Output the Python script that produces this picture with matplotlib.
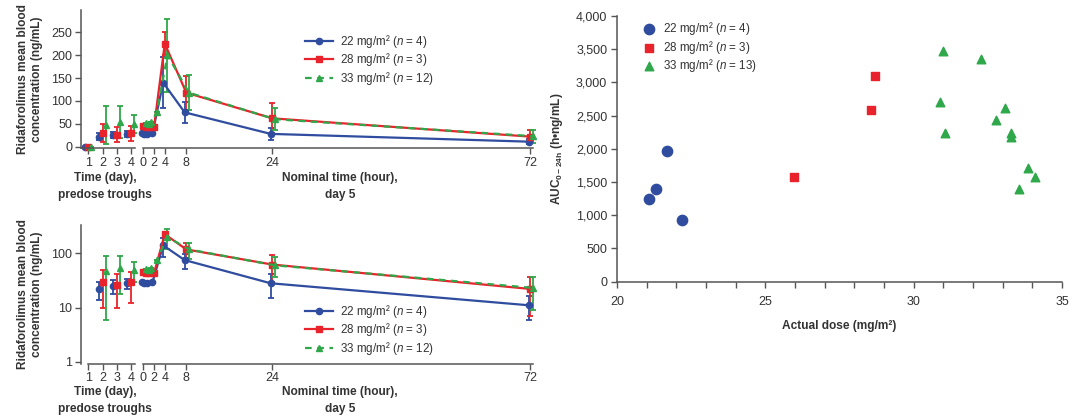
import numpy as np
import matplotlib
matplotlib.use('Agg')
import matplotlib.pyplot as plt
from matplotlib.lines import Line2D
from matplotlib.ticker import FuncFormatter, MultipleLocator, NullLocator

plt.rcParams['font.family'] = ['Liberation Sans', 'DejaVu Sans']
plt.rcParams['mathtext.fontset'] = 'custom'
plt.rcParams['mathtext.rm'] = 'Liberation Sans'
plt.rcParams['mathtext.it'] = 'Liberation Sans:italic'
plt.rcParams['mathtext.bf'] = 'Liberation Sans:bold'

W, H = 1073, 420
blue = '#2f4c9f'
red = '#e8232b'
green = '#2ea84a'
gris = '#555555'
txt = '#333333'

# predose troughs (days 1-4)
dias = [1, 2, 3, 4]
dia_azul = [0, 22, 25, 28]
dia_azul_sd = [0, 8, 7, 6]
dia_verm = [0, 30, 26, 29]
dia_verm_sd = [0, 20, 16, 17]
dia_verde = [0, 47, 53, 49]
dia_verde_sd = [0, 41, 35, 20]

# day 5 profile (hours)
horas = [0, 0.5, 1, 2, 4, 8, 24, 72]
h_azul = [30, 28, 28, 29, 140, 75, 28, 11]
h_azul_sd = [0, 0, 0, 0, 55, 23, 13, 5]
h_verm = [46, 43, 43, 43, 225, 118, 62, 22]
h_verm_sd = [0, 0, 0, 0, 25, 37, 33, 15]
h_verde = [52, 50, 53, 75, 200, 118, 60, 23]
h_verde_sd = [0, 0, 0, 0, 80, 38, 24, 14]

# AUC vs actual dose
dose_azul = [21.08, 21.3, 21.69, 22.2]
auc_azul = [1245, 1395, 1972, 929]
dose_verm = [25.98, 28.68, 28.57]
auc_verm = [1580, 3096, 2589]
dose_verde = [30.98, 32.28, 30.88, 33.09, 32.78, 31.07, 33.27, 33.27, 33.87, 34.09, 33.56]
auc_verde = [3477, 3347, 2705, 2619, 2434, 2238, 2243, 2173, 1706, 1571, 1390]

rotulos = ['22 mg/m² ($\\mathit{n}$ = 4)', '28 mg/m² ($\\mathit{n}$ = 3)']
rotulos_pk = rotulos + ['33 mg/m² ($\\mathit{n}$ = 12)']
rotulos_auc = rotulos + ['33 mg/m² ($\\mathit{n}$ = 13)']

fs_tick = 9
fs_lab = 8.6
fs_leg = 8.4


def caixa(x0, y0, x1, y1):
    return [x0 / W, 1 - y1 / H, (x1 - x0) / W, (y1 - y0) / H]


fig = plt.figure(figsize=(W / 100, H / 100), dpi=100)

series = [
    (dia_azul, dia_azul_sd, h_azul, h_azul_sd, blue, 'o', '-', -0.25, -0.3),
    (dia_verm, dia_verm_sd, h_verm, h_verm_sd, red, 's', '-', 0.0, 0.0),
    (dia_verde, dia_verde_sd, h_verde, h_verde_sd, green, '^', (0, (3, 2.5)), 0.22, 0.5),
]


def painel(top, bottom, log):
    axd = fig.add_axes(caixa(80.5, top, 135.3, bottom))
    axh = fig.add_axes(caixa(140.6, top, 535.7, bottom), sharey=axd)
    for (dv, dsd, hv, hsd, cor, mk, ls, offd, offh) in series:
        dx = np.array(dias) + offd
        dv = np.array(dv, float)
        dsd = np.array(dsd, float)
        if log:
            ok = dv > 0
        else:
            ok = np.ones(len(dv), bool)
        axd.errorbar(dx[ok], dv[ok], yerr=dsd[ok], fmt=mk, color=cor, ms=4.5,
                     elinewidth=1.3, capsize=2.5, capthick=1.3, clip_on=False)
        hx = np.array(horas) + offh
        axh.errorbar(hx, hv, yerr=hsd, color=cor, marker=mk, ms=4.5, ls=ls, lw=1.6,
                     elinewidth=1.3, capsize=2.5, capthick=1.3, clip_on=False)
    if log:
        axd.set_yscale('log')
        axd.set_ylim(0.907, 333)
        axd.set_yticks([1, 10, 100])
        axd.set_yticklabels(['1', '10', '100'])
        axd.yaxis.set_minor_locator(NullLocator())
        axd.spines['bottom'].set_bounds(0.95, 4.3)
    else:
        axd.set_ylim(-3.5, 298.7)
        axd.set_yticks([0, 50, 100, 150, 200, 250])
    axd.set_xlim(0.45, 4.3)
    axd.set_xticks(dias)
    axh.set_xlim(-0.5, 73)
    axh.set_xticks([0, 2, 4, 8, 24, 72])
    axh.spines['bottom'].set_bounds(0, 72.5)
    for a in (axd, axh):
        a.spines['top'].set_visible(False)
        a.spines['right'].set_visible(False)
        a.tick_params(colors=gris, labelcolor=txt, labelsize=fs_tick, length=4, width=1, pad=2)
        for s in a.spines.values():
            s.set_color(gris)
            s.set_linewidth(1.1)
    axh.spines['left'].set_visible(False)
    axh.tick_params(axis='y', left=False, labelleft=False)
    axd.set_ylabel('Ridaforolimus mean blood\nconcentration (ng/mL)', fontsize=fs_lab,
                   fontweight='bold', color=txt, labelpad=6, linespacing=1.2)
    return axd, axh


def legenda(ax, y):
    hs = [Line2D([], [], color=c, marker=m, ms=4.5, lw=1.6, ls=l)
          for (_, _, _, _, c, m, l, _, _) in series]
    ax.legend(hs, rotulos_pk, loc='upper left', frameon=False, fontsize=fs_leg,
              bbox_to_anchor=(305 / W, 1 - y / H), bbox_transform=fig.transFigure,
              borderpad=0, borderaxespad=0, handlelength=2.4, handletextpad=0.6,
              labelspacing=0.12, labelcolor=txt)


axd1, axh1 = painel(10, 148.3, False)
legenda(axh1, 33)
axd2, axh2 = painel(225, 364, True)
legenda(axh2, 303)

for ytop in (172, 386):
    fig.text(105 / W, 1 - ytop / H, 'Time (day),\npredose troughs', ha='center', va='top',
             fontsize=fs_lab, fontweight='bold', color=txt, linespacing=1.6)
    fig.text(340 / W, 1 - ytop / H, 'Nominal time (hour),\nday 5', ha='center', va='top',
             fontsize=fs_lab, fontweight='bold', color=txt, linespacing=1.6)

# scatter panel
ax = fig.add_axes(caixa(617, 16, 1062, 281.7))
ax.scatter(dose_azul, auc_azul, marker='o', s=55, color=blue, label=rotulos_auc[0], clip_on=False)
ax.scatter(dose_verm, auc_verm, marker='s', s=32, color=red, label=rotulos_auc[1], clip_on=False)
ax.scatter(dose_verde, auc_verde, marker='^', s=38, color=green, label=rotulos_auc[2], clip_on=False)
ax.set_xlim(20, 35)
ax.set_ylim(0, 4000)
ax.xaxis.set_major_locator(MultipleLocator(5))
ax.xaxis.set_minor_locator(MultipleLocator(1))
ax.yaxis.set_major_locator(MultipleLocator(500))
ax.yaxis.set_major_formatter(FuncFormatter(lambda v, p: f'{int(v):,}'))
ax.spines['top'].set_visible(False)
ax.spines['right'].set_visible(False)
for s in ax.spines.values():
    s.set_color(gris)
    s.set_linewidth(1.1)
ax.tick_params(which='both', colors=gris, labelcolor=txt, labelsize=fs_tick, length=4, width=1, pad=3)
ax.tick_params(axis='x', pad=6)
ax.set_xlabel('Actual dose (mg/m²)', fontsize=fs_lab, fontweight='bold', color=txt, labelpad=9)
ax.set_ylabel('AUC$_{\\mathregular{0-24h}}$ (h•ng/mL)', fontsize=fs_lab, fontweight='bold',
              color=txt, labelpad=8)
ax.legend(loc='upper left', frameon=False, fontsize=fs_leg, bbox_to_anchor=(643 / W, 1 - 20 / H),
          bbox_transform=fig.transFigure, borderpad=0, borderaxespad=0, handlelength=1.0,
          handletextpad=0.7, labelspacing=0.15, labelcolor=txt)

fig.savefig('out.png', dpi=100)
